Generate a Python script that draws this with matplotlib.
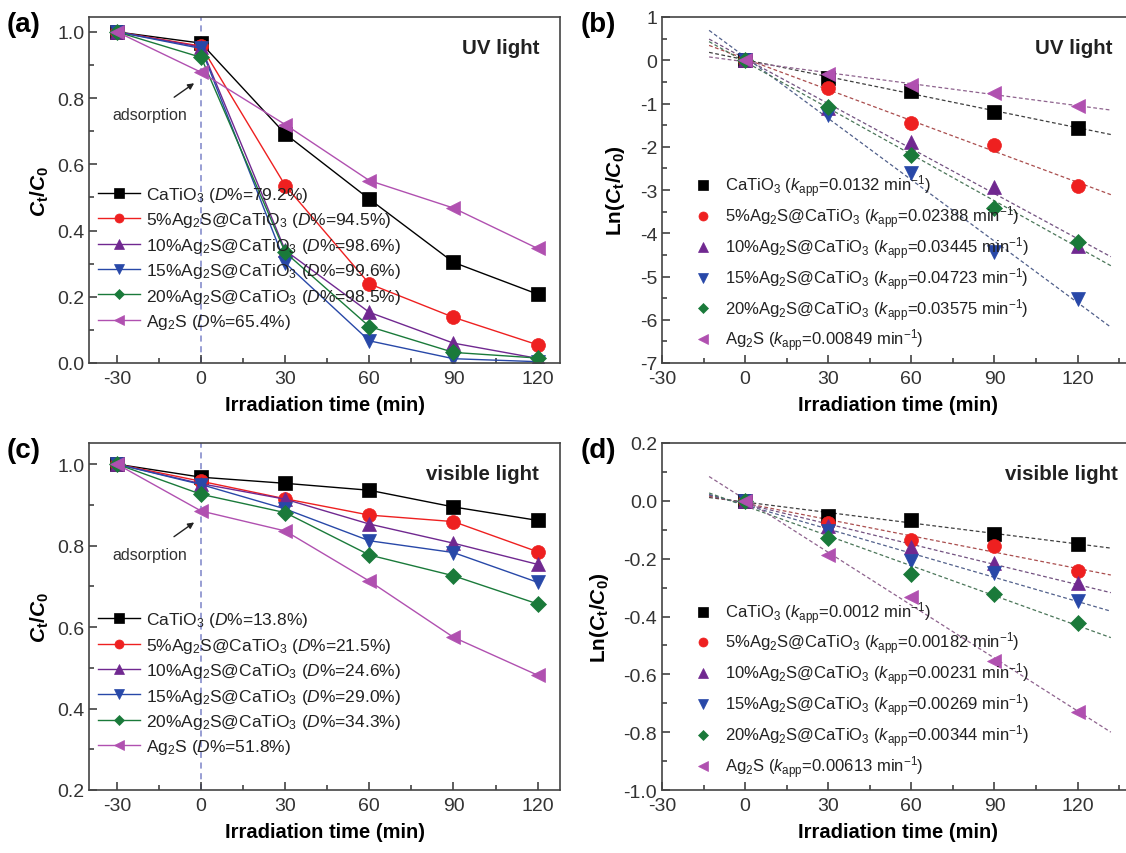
import numpy as np
import matplotlib
matplotlib.use("Agg")
import matplotlib.pyplot as plt
from matplotlib.ticker import MultipleLocator
from matplotlib.colors import to_rgb

plt.rcParams["font.family"] = ["Liberation Sans", "DejaVu Sans"]
plt.rcParams["mathtext.fontset"] = "custom"
plt.rcParams["mathtext.rm"] = "Liberation Sans"
plt.rcParams["mathtext.it"] = "Liberation Sans:italic"
plt.rcParams["mathtext.bf"] = "Liberation Sans:bold"
plt.rcParams["mathtext.bfit"] = "Liberation Sans:bold:italic"
plt.rcParams["axes.unicode_minus"] = False

# ---- data ----
time = [-30, 0, 30, 60, 90, 120]
time_ln = [0, 30, 60, 90, 120]

samples = ["CaTiO$_3$", "5%Ag$_2$S@CaTiO$_3$", "10%Ag$_2$S@CaTiO$_3$",
           "15%Ag$_2$S@CaTiO$_3$", "20%Ag$_2$S@CaTiO$_3$", "Ag$_2$S"]
colors = ["#000000", "#ee2020", "#702890", "#2848a8", "#1a7a3a", "#b050b0"]
markers = ["s", "o", "^", "v", "D", "<"]

# (a) UV light, Ct/C0
uv_ratio = [
    [1.0, 0.966, 0.692, 0.495, 0.304, 0.208],
    [1.0, 0.957, 0.536, 0.239, 0.138, 0.055],
    [1.0, 0.954, 0.340, 0.153, 0.060, 0.014],
    [1.0, 0.950, 0.302, 0.067, 0.013, 0.004],
    [1.0, 0.923, 0.334, 0.110, 0.032, 0.015],
    [1.0, 0.878, 0.720, 0.551, 0.468, 0.346],
]
uv_removal = ["79.2", "94.5", "98.6", "99.6", "98.5", "65.4"]

# (b) UV light, Ln(Ct/C0)
uv_ln = [
    [0.0, -0.40, -0.71, -1.19, -1.57],
    [0.0, -0.65, -1.44, -1.97, -2.91],
    [0.0, -1.10, -1.90, -2.93, -4.29],
    [0.0, -1.27, -2.60, -4.43, -5.52],
    [0.0, -1.09, -2.19, -3.41, -4.20],
    [0.0, -0.32, -0.58, -0.76, -1.05],
]
uv_k = ["0.0132", "0.02388", "0.03445", "0.04723", "0.03575", "0.00849"]

# (c) visible light, Ct/C0
vis_ratio = [
    [1.0, 0.968, 0.953, 0.936, 0.895, 0.862],
    [1.0, 0.958, 0.915, 0.875, 0.859, 0.785],
    [1.0, 0.952, 0.914, 0.853, 0.806, 0.754],
    [1.0, 0.950, 0.890, 0.812, 0.783, 0.710],
    [1.0, 0.926, 0.881, 0.777, 0.726, 0.657],
    [1.0, 0.885, 0.836, 0.713, 0.575, 0.482],
]
vis_removal = ["13.8", "21.5", "24.6", "29.0", "34.3", "51.8"]

# (d) visible light, Ln(Ct/C0)
vis_ln = [
    [0.0, -0.051, -0.068, -0.115, -0.149],
    [0.0, -0.075, -0.134, -0.155, -0.242],
    [0.0, -0.088, -0.161, -0.216, -0.285],
    [0.0, -0.105, -0.207, -0.248, -0.346],
    [0.0, -0.128, -0.253, -0.321, -0.421],
    [0.0, -0.186, -0.334, -0.555, -0.730],
]
vis_k = ["0.0012", "0.00182", "0.00231", "0.00269", "0.00344", "0.00613"]

W, H = 1126, 854
fig = plt.figure(figsize=(W / 100, H / 100), dpi=100)


def px_axes(left, top, right, bottom):
    return fig.add_axes([left / W, 1 - bottom / H, (right - left) / W, (bottom - top) / H])


def style(ax, xlim, ylim, ymajor, yminor):
    ax.set_xlim(*xlim)
    ax.set_ylim(*ylim)
    ax.set_xticks(time)
    ax.xaxis.set_minor_locator(MultipleLocator(15))
    ax.yaxis.set_major_locator(MultipleLocator(ymajor))
    ax.yaxis.set_minor_locator(MultipleLocator(yminor))
    ax.tick_params(which="both", direction="in", top=False, right=False,
                   labelsize=14, colors="#333333", width=1.1)
    ax.tick_params(which="major", length=6)
    ax.tick_params(which="minor", length=3.5)
    ax.tick_params(axis="x", which="major", pad=5)
    for s in ax.spines.values():
        s.set_color("#444444")
        s.set_linewidth(1.2)
    ax.set_xlabel("Irradiation time (min)", fontsize=14.5, fontweight="bold", labelpad=6)


def fade(c, f=0.55):
    r, g, b = to_rgb(c)
    return (r + (0.45 - r) * f, g + (0.45 - g) * f, b + (0.45 - b) * f)


def ratio_panel(ax, data, removal, label, ylim, light, arrow, leg_top):
    for i in range(6):
        ms = 8 if markers[i] == "D" else 10
        ax.plot(time, data[i], color=colors[i], lw=1.0, marker=markers[i], ms=ms,
                mec=colors[i], mew=0.5,
                label=samples[i] + " ($\\mathit{D}$%=" + removal[i] + "%)")
    ax.axvline(0, color="#7c84c8", lw=1.1, ls=(0, (4, 3)), zorder=0)
    style(ax, (-40, 128), ylim, 0.2, 0.1)
    ax.set_ylabel("$\\mathbfit{C}_\\mathbf{t}\\mathbf{/}\\mathbfit{C}_\\mathbf{0}$", fontsize=15, labelpad=4)
    ax.text(0.956, 0.912, light, transform=ax.transAxes, ha="right", va="center",
            fontsize=14.8, fontweight="bold", color="#222222")
    ax.annotate("adsorption", xy=arrow[0], xytext=arrow[1], fontsize=11.5, color="#333333",
                ha="center", va="center",
                arrowprops=dict(arrowstyle="-|>", color="#222222", lw=1.0, mutation_scale=9,
                                shrinkA=9, shrinkB=0))
    leg = ax.legend(loc="upper left", bbox_to_anchor=(0.02, leg_top), frameon=False,
                    fontsize=12.5, handlelength=2.4, handletextpad=0.35, labelspacing=0.37,
                    markerscale=0.65, borderpad=0, borderaxespad=0)
    for t in leg.get_texts():
        t.set_color("#222222")
    ax.text(-0.175, 0.98, label, transform=ax.transAxes, fontsize=20, fontweight="bold",
            ha="left", va="center")


def ln_panel(ax, data, kvals, label, ylim, ymajor, yminor, light, leg_top, light_x):
    xfit = np.array([-13, 132])
    for i in range(6):
        ms = 8 if markers[i] == "D" else 10
        slope, icpt = np.polyfit(time_ln, data[i], 1)
        ax.plot(xfit, slope * xfit + icpt, color=fade(colors[i]), lw=0.9, ls=(0, (3, 2)), zorder=1)
        ax.plot(time_ln, data[i], ls="none", marker=markers[i], ms=ms, color=colors[i],
                mec=colors[i], mew=0.5, zorder=3,
                label=samples[i] + " ($\\mathit{k}_\\mathrm{app}$=" + kvals[i] + " min$^{-1}$)")
    style(ax, (-30, 140), ylim, ymajor, yminor)
    ax.set_ylabel("$\\mathbf{Ln(}\\mathbfit{C}_\\mathbf{t}\\mathbf{/}\\mathbfit{C}_\\mathbf{0}\\mathbf{)}$",
                  fontsize=15, labelpad=9)
    ax.text(light_x, 0.912, light, transform=ax.transAxes, ha="right", va="center",
            fontsize=14.8, fontweight="bold", color="#222222")
    leg = ax.legend(loc="upper left", bbox_to_anchor=(0.07, leg_top), frameon=False,
                    fontsize=12, handlelength=1.0, handletextpad=0.8, labelspacing=0.26,
                    markerscale=0.65, borderpad=0, borderaxespad=0)
    for t in leg.get_texts():
        t.set_color("#222222")
    ax.text(-0.172, 0.98, label, transform=ax.transAxes, fontsize=20, fontweight="bold",
            ha="left", va="center")


ax_a = px_axes(89, 18, 560, 364)
ax_b = px_axes(662, 18, 1133, 364)
ax_c = px_axes(89, 444, 560, 791)
ax_d = px_axes(662, 444, 1133, 791)

ratio_panel(ax_a, uv_ratio, uv_removal, "(a)", (0, 1.045), "UV light",
            ((-2.5, 0.845), (-18.5, 0.75)), 0.515)
ln_panel(ax_b, uv_ln, uv_k, "(b)", (-7, 1), 1, 0.5, "UV light", 0.55, 0.956)
ratio_panel(ax_c, vis_ratio, vis_removal, "(c)", (0.2, 1.052), "visible light",
            ((-2.5, 0.857), (-18.5, 0.779)), 0.518)
ln_panel(ax_d, vis_ln, vis_k, "(d)", (-1.0, 0.2), 0.2, 0.1, "visible light", 0.55, 0.968)

fig.savefig("out.png", dpi=100)
